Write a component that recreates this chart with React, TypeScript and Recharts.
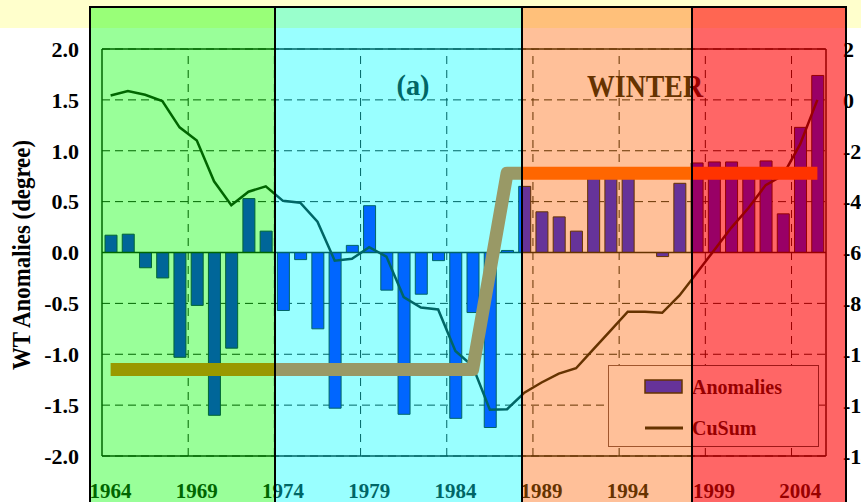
import React from 'react';
import {
  ComposedChart,
  Bar,
  Line,
  XAxis,
  YAxis,
  CartesianGrid,
  ReferenceLine,
  Legend,
} from 'recharts';

const FONT = "'Liberation Serif', 'Times New Roman', serif";

const years = [
  1964, 1965, 1966, 1967, 1968, 1969, 1970, 1971, 1972, 1973,
  1974, 1975, 1976, 1977, 1978, 1979, 1980, 1981, 1982, 1983,
  1984, 1985, 1986, 1987, 1988, 1989, 1990, 1991, 1992, 1993,
  1994, 1995, 1996, 1997, 1998, 1999, 2000, 2001, 2002, 2003,
  2004, 2005,
];

const anomalies = [
  0.17, 0.18, -0.15, -0.25, -1.03, -0.52, -1.6, -0.94, 0.53, 0.21,
  -0.57, -0.07, -0.75, -1.53, 0.07, 0.46, -0.37, -1.59, -0.41, -0.08,
  -1.63, -0.59, -1.72, 0.02, 0.65, 0.4, 0.35, 0.21, 0.74, 0.74,
  0.74, 0.0, -0.04, 0.68, 0.88, 0.89, 0.89, 0.78, 0.9, 0.38,
  1.23, 1.74,
];

const cusum = [
  0.17, 0.35, 0.2, -0.05, -1.08, -1.6, -3.2, -4.14, -3.61, -3.4,
  -3.97, -4.04, -4.79, -6.32, -6.25, -5.79, -6.16, -7.75, -8.16, -8.24,
  -9.87, -10.46, -12.18, -12.16, -11.51, -11.11, -10.76, -10.55, -9.81, -9.07,
  -8.33, -8.33, -8.37, -7.69, -6.81, -5.92, -5.03, -4.25, -3.35, -2.97,
  -1.74, 0.0,
];

const shift = [
  -1.15, -1.15, -1.15, -1.15, -1.15, -1.15, -1.15, -1.15, -1.15, -1.15,
  -1.15, -1.15, -1.15, -1.15, -1.15, -1.15, -1.15, -1.15, -1.15, -1.15,
  -1.15, -1.15, -0.185, 0.78, 0.78, 0.78, 0.78, 0.78, 0.78, 0.78,
  0.78, 0.78, 0.78, 0.78, 0.78, 0.78, 0.78, 0.78, 0.78, 0.78,
  0.78, 0.78,
];

const leftTicks = [-2, -1.5, -1, -0.5, 0, 0.5, 1, 1.5, 2];
const rightTicks = [-14, -12, -10, -8, -6, -4, -2, 0, 2];
const gridYears = [1969, 1974, 1979, 1984, 1989, 1994, 1999, 2004];
const legendNames = ['Anomalies', 'CuSum'];
const panelLabel = '(a)';
const seasonLabel = 'WINTER';
const yTitle = 'WT Anomalies (degree)';

const rows = years.map((year, i) => ({
  year,
  anomaly: anomalies[i],
  cusum: cusum[i],
  shift: shift[i],
}));

type Theme = {
  x0: number;
  x1: number;
  bg: string;
  top: string;
  bar: string;
  barStroke: string;
  line: string;
  step: string;
  grid: string;
  text: string;
  legendBorder: string;
};

const base: Theme = {
  x0: 0,
  x1: 861,
  bg: '#FFFFFF',
  top: '#FFFFCC',
  bar: '#663399',
  barStroke: '#663300',
  line: '#663300',
  step: '#FF6600',
  grid: '#000000',
  text: '#000000',
  legendBorder: '#000000',
};

const bands: Theme[] = [
  {
    x0: 90, x1: 275, bg: '#99FF99', top: '#99FF78', bar: '#006699', barStroke: '#006633',
    line: '#006600', step: '#999900', grid: '#006600', text: '#006600', legendBorder: '#006600',
  },
  {
    x0: 275, x1: 522, bg: '#99FFFF', top: '#99FFCC', bar: '#0066FF', barStroke: '#006666',
    line: '#006666', step: '#999966', grid: '#006666', text: '#006666', legendBorder: '#006666',
  },
  {
    x0: 522, x1: 692, bg: '#FFC099', top: '#FFC07A', bar: '#663399', barStroke: '#663300',
    line: '#663300', step: '#FF6600', grid: '#663300', text: '#663300', legendBorder: '#A0562D',
  },
  {
    x0: 692, x1: 846, bg: '#FF6666', top: '#FF6652', bar: '#990066', barStroke: '#990000',
    line: '#990000', step: '#FF3300', grid: '#990000', text: '#990000', legendBorder: '#A01818',
  },
];

function LegendBox({ t }: { t: Theme }) {
  return (
    <div
      style={{
        width: 211,
        height: 82,
        boxSizing: 'border-box',
        border: `1.5px solid ${t.legendBorder}`,
        background: t.bg,
      }}
    >
      <svg width={208} height={79} style={{ display: 'block' }}>
        <rect x={36} y={14} width={37} height={13} fill={t.bar} stroke={t.barStroke} strokeWidth={1.5} />
        <text x={83} y={28} fontFamily={FONT} fontWeight={700} fontSize={20} fill={t.text}>
          {legendNames[0]}
        </text>
        <line x1={36} x2={74} y1={62} y2={62} stroke={t.line} strokeWidth={3} />
        <text x={83} y={69} fontFamily={FONT} fontWeight={700} fontSize={20} fill={t.text}>
          {legendNames[1]}
        </text>
      </svg>
    </div>
  );
}

function Layer({ t }: { t: Theme }) {
  const tickStyle = { fill: t.text, fontSize: 21, fontWeight: 700, fontFamily: FONT };
  const yTickStyle = { ...tickStyle, fontSize: 22 };
  return (
    <div style={{ position: 'absolute', left: 0, top: 0, width: 861, height: 502, background: t.bg }}>
      <div style={{ position: 'absolute', left: 0, top: 0, width: 861, height: 28, background: t.top }} />
      <div style={{ position: 'absolute', left: 0, top: 0 }}>
        <ComposedChart
          width={861}
          height={502}
          data={rows}
          margin={{ top: 49, right: 0, bottom: 0, left: 0 }}
          barCategoryGap={0}
        >
          <CartesianGrid vertical={false} stroke={t.grid} strokeDasharray="8 5" />
          {gridYears.map((gy) => (
            <ReferenceLine
              key={gy}
              x={gy}
              position="start"
              stroke={t.grid}
              strokeDasharray="8 6"
            />
          ))}
          <XAxis
            dataKey="year"
            interval={4}
            height={46}
            tickSize={0}
            tickMargin={27}
            tickLine={false}
            axisLine={{ stroke: t.grid, strokeWidth: 1.5 }}
            tick={tickStyle}
          />
          <YAxis
            domain={[-2, 2]}
            ticks={leftTicks}
            interval={0}
            width={102}
            tickSize={0}
            tickMargin={23}
            tickLine={false}
            tickFormatter={(v: number) => v.toFixed(1)}
            axisLine={{ stroke: t.grid, strokeWidth: 1.5 }}
            tick={yTickStyle}
          />
          <YAxis
            yAxisId="right"
            orientation="right"
            domain={[-14, 2]}
            ticks={rightTicks}
            interval={0}
            width={35}
            tickSize={0}
            tickMargin={17}
            tickLine={false}
            axisLine={{ stroke: t.grid, strokeWidth: 1.5 }}
            tick={{ ...yTickStyle, textAnchor: 'start' }}
          />
          <ReferenceLine y={2} stroke={t.grid} strokeWidth={1.5} />
          <Bar
            dataKey="anomaly"
            name={legendNames[0]}
            barSize={12}
            fill={t.bar}
            stroke={t.barStroke}
            strokeWidth={1}
            isAnimationActive={false}
          />
          <ReferenceLine y={0} stroke={t.grid} strokeWidth={1.5} />
          <Line
            yAxisId="right"
            dataKey="cusum"
            name={legendNames[1]}
            type="linear"
            stroke={t.line}
            strokeWidth={2.5}
            dot={false}
            activeDot={false}
            isAnimationActive={false}
          />
          <Line
            dataKey="shift"
            type="linear"
            stroke={t.step}
            strokeWidth={13}
            strokeLinejoin="round"
            dot={false}
            activeDot={false}
            legendType="none"
            isAnimationActive={false}
          />
          <Legend
            layout="horizontal"
            verticalAlign="middle"
            align="center"
            content={() => <LegendBox t={t} />}
            wrapperStyle={{ left: 608, top: 365, width: 211, height: 82 }}
          />
        </ComposedChart>
      </div>
      <svg
        width={861}
        height={502}
        style={{ position: 'absolute', left: 0, top: 0, pointerEvents: 'none' }}
      >
        <text
          x={413}
          y={95}
          textAnchor="middle"
          fontFamily={FONT}
          fontWeight={700}
          fontSize={30}
          fill={t.text}
          textLength={33}
          lengthAdjust="spacingAndGlyphs"
        >
          {panelLabel}
        </text>
        <text
          x={587}
          y={96.5}
          fontFamily={FONT}
          fontWeight={700}
          fontSize={31}
          fill={t.text}
          textLength={116}
          lengthAdjust="spacingAndGlyphs"
        >
          {seasonLabel}
        </text>
        <text
          transform="translate(30,255) rotate(-90)"
          textAnchor="middle"
          fontFamily={FONT}
          fontWeight={700}
          fontSize={25}
          fill={t.text}
          textLength={230}
          lengthAdjust="spacingAndGlyphs"
        >
          {yTitle}
        </text>
      </svg>
    </div>
  );
}

export default function App() {
  const vlines = [90, 275, 522, 692, 846];
  return (
    <div
      style={{
        position: 'absolute',
        left: 0,
        top: 0,
        width: 861,
        height: 502,
        overflow: 'hidden',
        background: '#FFFFFF',
      }}
    >
      <Layer t={base} />
      {bands.map((b) => (
        <div
          key={b.x0}
          style={{
            position: 'absolute',
            left: 0,
            top: 0,
            width: 861,
            height: 502,
            clipPath: `inset(7px ${861 - b.x1}px 0px ${b.x0}px)`,
          }}
        >
          <Layer t={b} />
        </div>
      ))}
      <div style={{ position: 'absolute', left: 89, top: 6, width: 758, height: 2, background: '#000' }} />
      {vlines.map((x) => (
        <div
          key={x}
          style={{ position: 'absolute', left: x - 1, top: 6, width: 2, height: 496, background: '#000' }}
        />
      ))}
    </div>
  );
}
